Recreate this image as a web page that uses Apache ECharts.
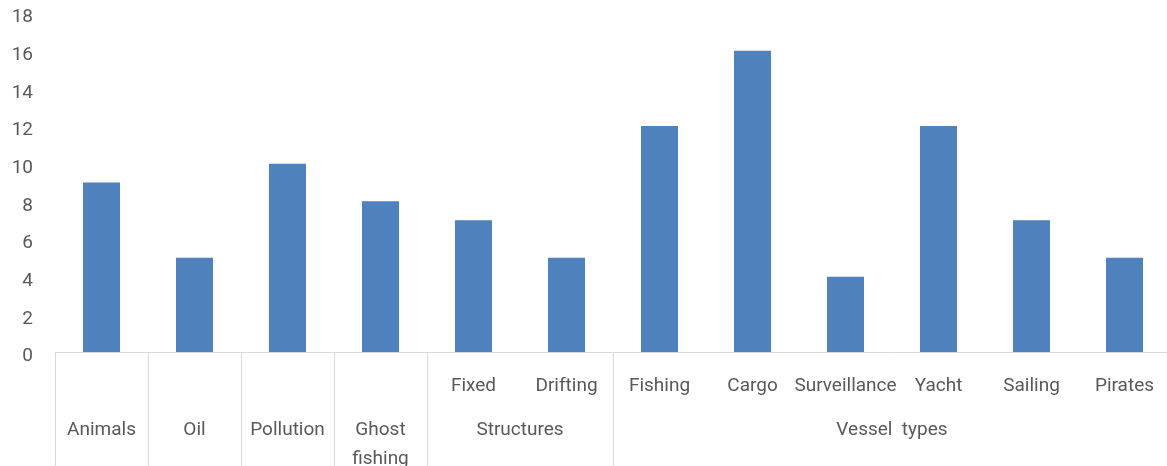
<!DOCTYPE html>
<html>
<head>
<meta charset="utf-8">
<script src="https://cdn.jsdelivr.net/npm/echarts@6/dist/echarts.min.js"></script>
<style>html,body{margin:0;padding:0;background:#fff}#c{width:1167px;height:466px}</style>
</head>
<body>
<div id="c"></div>
<script>
// Data
var categories = ['Animals', 'Oil', 'Pollution', 'Ghost\nfishing', 'Fixed', 'Drifting', 'Fishing', 'Cargo', 'Surveillance', 'Yacht', 'Sailing', 'Pirates'];
var groups = ['', '', '', '', 'Structures', 'Structures', 'Vessel  types', 'Vessel  types', 'Vessel  types', 'Vessel  types', 'Vessel  types', 'Vessel  types'];
var values = [9, 5, 10, 8, 7, 5, 12, 16, 4, 12, 7, 5];
var yTicks = [0, 2, 4, 6, 8, 10, 12, 14, 16, 18];

// Second-row labels: single-level categories use their name; grouped ones use group name centred on the group span
var rowTwo = {};
(function () {
  var i = 0;
  while (i < categories.length) {
    if (!groups[i]) { rowTwo[(i + 0.5).toFixed(1)] = categories[i]; i++; continue; }
    var j = i;
    while (j + 1 < categories.length && groups[j + 1] === groups[i]) j++;
    rowTwo[((i + j + 1) / 2).toFixed(1)] = groups[i];
    i = j + 1;
  }
})();
// divider positions (category indices where a first-level block begins)
var dividers = {};
(function () {
  for (var i = 0; i < categories.length; i++) {
    if (i === 0 || !groups[i] || groups[i] !== groups[i - 1]) dividers[i] = true;
  }
})();

var textColor = '#595959';
var font = 'Roboto, "Liberation Sans", sans-serif';
var chart = echarts.init(document.getElementById('c'));
chart.setOption({
  animation: false,
  grid: { left: 55, right: -4, top: 13, bottom: 114, containLabel: false, outerBoundsMode: 'none' },
  xAxis: [{
    type: 'category',
    data: categories,
    axisLine: { show: true, lineStyle: { color: '#d9d9d9', width: 1 } },
    axisTick: {
      show: true, length: 114, alignWithLabel: false,
      interval: function (idx) { return !!dividers[idx]; },
      lineStyle: { color: '#d9d9d9', width: 1 }
    },
    axisLabel: {
      interval: 0, margin: 20, color: textColor, fontSize: 19, fontFamily: font, lineHeight: 29,
      formatter: function (v) { var i = categories.indexOf(v); return groups[i] ? v : ''; }
    },
    splitLine: { show: false }
  }, {
    type: 'value', position: 'bottom', min: 0, max: categories.length, interval: 0.5,
    axisLine: { show: false }, axisTick: { show: false }, splitLine: { show: false },
    axisLabel: {
      show: true, margin: 64, color: textColor, fontSize: 19, fontFamily: font, lineHeight: 29,
      showMinLabel: true, showMaxLabel: true, hideOverlap: false,
      formatter: function (v) { return rowTwo[v.toFixed(1)] || ''; }
    }
  }],
  yAxis: {
    type: 'value', min: 0, max: 18, interval: 2,
    axisLine: { show: false }, axisTick: { show: false }, splitLine: { show: false },
    axisLabel: { margin: 22, color: textColor, fontSize: 19, fontFamily: font, verticalAlign: 'top', lineHeight: 9,
      formatter: function (v) { return yTicks.indexOf(v) >= 0 ? String(v) : ''; } }
  },
  series: [{
    type: 'bar', xAxisIndex: 0, data: values, barWidth: 37,
    itemStyle: { color: '#4f81bd' }
  }]
});
</script>
</body>
</html>
